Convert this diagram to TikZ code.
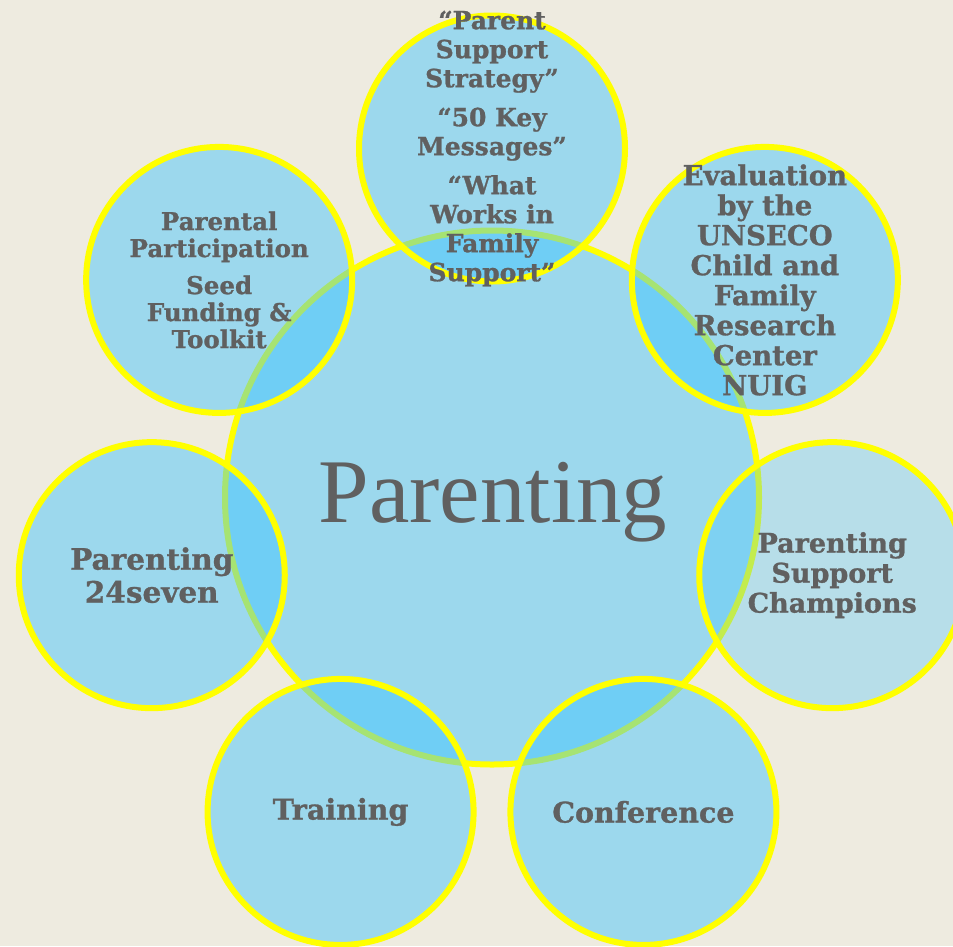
\documentclass[tikz,border=0pt]{standalone}
\usepackage{fontspec}
\setmainfont{DejaVu Serif}[BoldFeatures={FakeBold=1}]
\newfontfamily\centerfont{Liberation Serif}
\usetikzlibrary{calc}
\definecolor{bg}{RGB}{238,235,224}
\definecolor{bub}{RGB}{58,195,255}
\definecolor{ring}{RGB}{255,255,0}
\definecolor{ink}{RGB}{96,96,96}
\begin{document}
\begin{tikzpicture}[x=1pt,y=-1pt,
  bubble/.style={circle,draw=ring,line width=6pt,fill=bub,fill opacity=0.45,
    text opacity=1,minimum size=266pt,inner sep=0pt},
  hub/.style={bubble,minimum size=534pt},
  lbl/.style={text=ink,align=center,inner sep=0pt,
    font=\bfseries\fontsize{25}{29}\selectfont}]
\fill[bg] (0,0) rectangle (953,946);
\useasboundingbox (0,0) rectangle (953,946);
\coordinate (c) at (492,497.5);
\node[hub] (hub) at (c) {};
\node[bubble] (b1) at ($(c)+(90:349pt)$) {};
\node[bubble] (b2) at ($(c)+(38.571:349pt)$) {};
\node[bubble,fill opacity=0.3] (b3) at ($(c)+(-12.857:349pt)$) {};
\node[bubble] (b4) at ($(c)+(-64.286:349pt)$) {};
\node[bubble] (b5) at ($(c)+(-115.714:349pt)$) {};
\node[bubble] (b6) at ($(c)+(-167.143:349pt)$) {};
\node[bubble] (b7) at ($(c)+(141.429:349pt)$) {};
\node[text=ink,anchor=base,inner sep=0pt,font=\centerfont\fontsize{91}{91}\selectfont] (title) at (493,522) {Parenting};
\node[lbl] (t1) at (b1) {“Parent\\Support\\Strategy”\\[10pt]“50 Key\\Messages”\\[10pt]“What\\Works in\\Family\\Support”};
\node[lbl,font=\bfseries\fontsize{27.5}{30}\selectfont] (t2) at (b2) {Evaluation\\by the\\UNSECO\\Child and\\Family\\Research\\Center\\NUIG};
\node[lbl,font=\bfseries\fontsize{27}{30}\selectfont] (t3) at (b3) {Parenting\\Support\\Champions};
\node[lbl,font=\bfseries\fontsize{28.5}{28.5}\selectfont] (t4) at (b4) {Conference};
\node[lbl,font=\bfseries\fontsize{28.5}{28.5}\selectfont] (t5) at (b5) {Training};
\node[lbl,font=\bfseries\fontsize{29.5}{33}\selectfont] (t6) at (b6) {Parenting\\24seven};
\node[lbl,font=\bfseries\fontsize{24.5}{27}\selectfont] (t7) at (b7) {Parental\\Participation\\[10pt]Seed\\Funding \&\\Toolkit};
\end{tikzpicture}
\end{document}
